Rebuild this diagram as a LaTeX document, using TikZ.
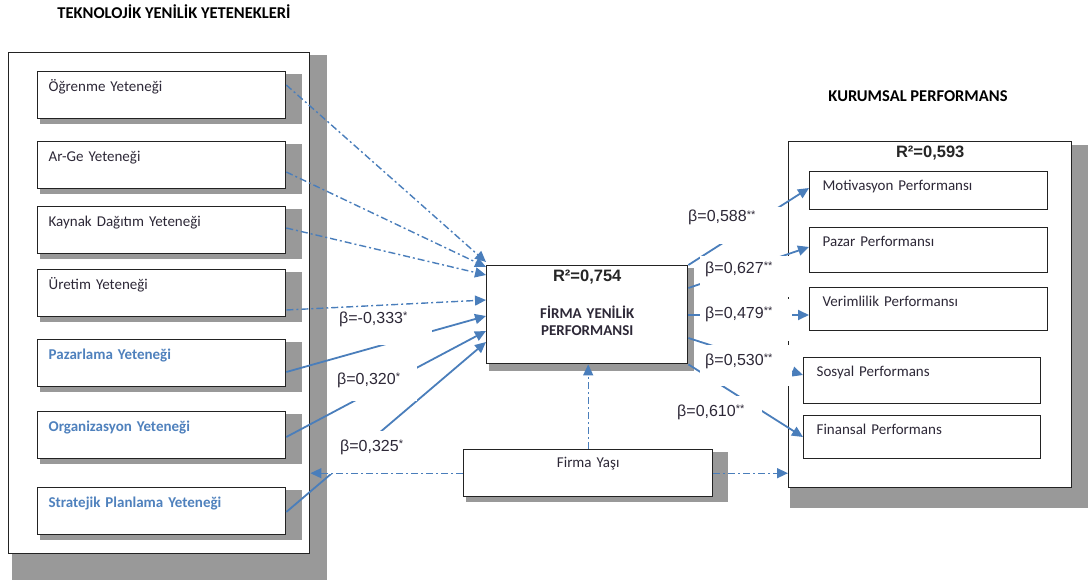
\documentclass[tikz,border=0pt]{standalone}
\usepackage{fontspec}
\setmainfont{Carlito}
\newfontfamily\arialf{Liberation Sans}
\usetikzlibrary{arrows.meta,calc}
\definecolor{arrc}{RGB}{74,126,187}
\definecolor{blt}{RGB}{79,129,189}
\definecolor{shc}{RGB}{153,153,153}
\definecolor{brd}{RGB}{35,35,35}
\definecolor{txt}{RGB}{45,40,55}
\newcommand{\fs}{\fontsize{15}{17}\selectfont}
\newcommand{\lf}{\arialf\fontsize{16}{19}\selectfont}
\newcommand{\rf}{\arialf\bfseries\fontsize{16.5}{19}\selectfont}
\newcommand{\tf}{\bfseries\fontsize{16.5}{19}\selectfont}
\newcommand{\st}[1]{\raisebox{3.8pt}{\fontsize{11}{11}\selectfont #1}}
\begin{document}
\begin{tikzpicture}[x=1pt,y=-1pt,
  shad/.style={fill=shc},
  bigbox/.style={draw=brd, line width=1.4pt, fill=white, anchor=north west, inner sep=0pt},
  ibox/.style={draw=brd, line width=1.3pt, fill=white, anchor=north west, inner xsep=11pt, inner ysep=0pt,
    text width=226pt, align=left, text height=20pt, text depth=27pt, font=\fs, text=txt},
  bbox/.style={ibox, font=\fs\bfseries, text=blt},
  rbox/.style={draw=brd, line width=1.3pt, fill=white, anchor=north west, inner xsep=13pt, inner ysep=0pt,
    align=left, text height=18.5pt, font=\fs, text=txt},
  ttl/.style={font=\tf, text=black, anchor=base, inner sep=0pt},
  rsq/.style={font=\rf, text=black!85, anchor=base, inner sep=0pt},
  lbl/.style={fill=white, inner ysep=0pt, anchor=base west, font=\lf, text=txt, align=left},
  solid arrow/.style={draw=arrc, line width=1.8pt, -{Triangle[length=11pt,width=10pt]}},
  dd/.style={draw=arrc, line width=1.4pt, dash pattern=on 7pt off 3pt on 2pt off 3pt, -{Triangle[length=11pt,width=10pt]}}
]
\useasboundingbox (0,0) rectangle (1089,580);

% ---------- left group ----------
\fill[shad] (12,55) rectangle (327,580);
\node[bigbox, minimum width=301pt, minimum height=501pt] (tyy) at (8,52) {};
\node[ttl] (t1) at (174,19) {TEKNOLOJİK YENİLİK YETENEKLERİ};

\fill[shad] (40,74) rectangle (302,124);
\node[ibox] (ogr) at (37,71) {Öğrenme Yeteneği};
\fill[shad] (40,144) rectangle (302,194);
\node[ibox] (arge) at (37,141) {Ar-Ge Yeteneği};
\fill[shad] (40,209) rectangle (302,259);
\node[ibox] (kay) at (37,206) {Kaynak Dağıtım Yeteneği};
\fill[shad] (40,272) rectangle (302,322);
\node[ibox] (ure) at (37,269) {Üretim Yeteneği};
\fill[shad] (40,342) rectangle (302,392);
\node[bbox] (paz) at (37,339) {Pazarlama Yeteneği};
\fill[shad] (40,414) rectangle (302,464);
\node[bbox] (org) at (37,411) {Organizasyon Yeteneği};
\fill[shad] (40,490) rectangle (302,540);
\node[bbox] (str) at (37,487) {Stratejik Planlama Yeteneği};

% ---------- centre ----------
\fill[shad] (489,268) rectangle (694,371);
\node[bigbox, text width=201pt, align=center, text height=53pt, text depth=45pt,
      font=\fs\bfseries, text=txt] (fyp) at (486,265) {FİRMA YENİLİK\\PERFORMANSI};
\node[rsq] (r1) at ($(fyp.north)+(0,16)$) {R²=0,754};

\fill[shad] (466,452) rectangle (728,502);
\node[bigbox, text width=249pt, align=center, text height=18pt, text depth=29pt,
      font=\fs, text=txt] (fy) at (463,449) {Firma Yaşı};

% ---------- right group ----------
\fill[shad] (790,145) rectangle (1088,508);
\node[bigbox, text width=283pt, align=center, text height=16pt, text depth=330pt,
      font=\rf, text=black!85] (kp) at (788,141) {R²=0,593};
\node[ttl] (t2) at (918,102) {KURUMSAL PERFORMANS};

\node[rbox, text width=212pt, text depth=19.5pt] (mot) at (809,171) {Motivasyon Performansı};
\node[rbox, text width=212pt, text depth=26.5pt] (pzr) at (809,227) {Pazar Performansı};
\node[rbox, text width=212pt, text depth=24.5pt] (ver) at (809,287) {Verimlilik Performansı};
\node[rbox, text width=211pt, text depth=27.5pt] (sos) at (803,357) {Sosyal Performans};
\node[rbox, text width=211pt, text depth=24.5pt] (fin) at (803,415) {Finansal Performans};

% ---------- connectors: left ----------
\draw[dd] (ogr.east |- 0,85) -- (fyp.west |- 0,262);
\draw[dd] (arge.east |- 0,172) -- (fyp.west |- 0,267);
\draw[dd] (kay.east |- 0,228) -- (fyp.west |- 0,275);
\draw[dd] (ure.east |- 0,310) -- (fyp.west |- 0,300);
\draw[solid arrow] (paz.east |- 0,372) -- (fyp.west |- 0,316);
\draw[solid arrow] (org.east |- 0,437) -- (fyp.west |- 0,331);
\draw[solid arrow] (str.east |- 0,512) -- (fyp.west |- 0,342);

% ---------- connectors: right ----------
\draw[solid arrow] (fyp.north east) -- (mot.west |- 0,188);
\draw[solid arrow] (fyp.east |- 0,288) -- (pzr.west |- 0,247);
\draw[solid arrow] (fyp.east |- 0,315) -- (ver.west |- 0,315);
\draw[solid arrow] (fyp.east |- 0,338) -- (sos.west |- 0,375);
\draw[solid arrow] (fyp.south east) -- (fin.west |- 0,437);

% ---------- labels ----------
\node[lbl, inner xsep=7pt, text width=86pt, text height=12pt, text depth=22pt] (la) at (332,323) {β=-0,333\st{*}};
\node[lbl, inner xsep=9pt, text width=71pt, text height=21pt, text depth=17pt] (lb) at (328,384) {β=0,320\st{*}};
\node[lbl, inner xsep=12pt, text width=68pt, text height=20pt, text depth=23pt] (lc) at (328,451) {β=0,325\st{*}};
\node[lbl, inner xsep=2pt, text width=95pt, text height=15pt, text depth=22pt] (l1) at (686,222) {β=0,588\st{**}};
\node[lbl, inner xsep=5pt, text width=82pt, text height=17pt, text depth=24pt] (l2) at (700,273) {β=0,627\st{**}};
\node[lbl, inner xsep=5pt, text width=82pt, text height=19pt, text depth=23pt] (l3) at (700,318) {β=0,479\st{**}};
\node[lbl, inner xsep=5pt, text width=82pt, text height=20pt, text depth=21pt] (l4) at (700,365) {β=0,530\st{**}};
\node[lbl, inner xsep=5pt, text width=80pt, text height=20pt, text depth=9pt] (l5) at (672,416) {β=0,610\st{**}};

% ---------- Firma Yaşı connectors ----------
\draw[dd] (fy.north) -- (fy.north |- fyp.south);
\draw[dd] (fy.west) -- (tyy.east |- fy.west);
\draw[dd] (fy.east) -- (kp.west |- fy.east);
\end{tikzpicture}
\end{document}
